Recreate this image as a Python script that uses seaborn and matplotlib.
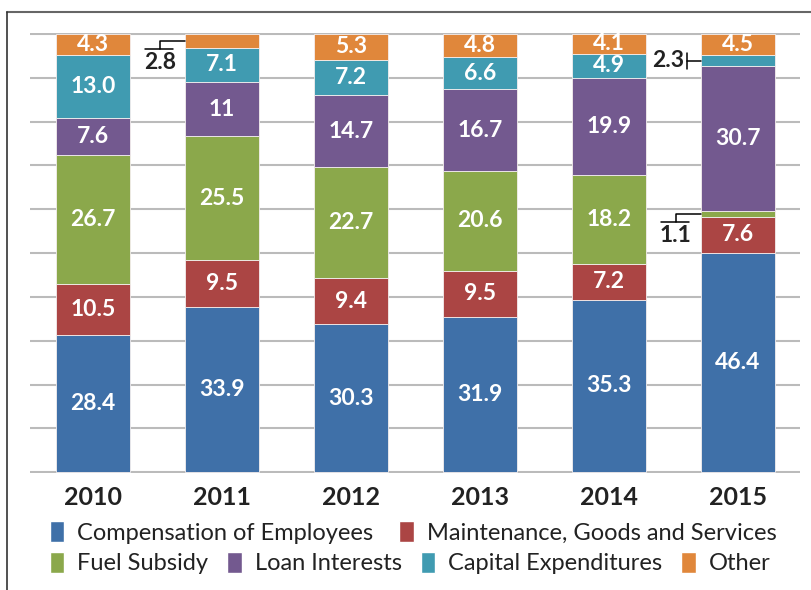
import pandas as pd
import matplotlib.pyplot as plt
import seaborn as sns
from matplotlib.lines import Line2D
from matplotlib.patches import Patch

# data (values as printed on the bars; bars are drawn as shares of each year's total)
years = ["2010", "2011", "2012", "2013", "2014", "2015"]
categories = ["Compensation of Employees", "Maintenance, Goods and Services",
              "Fuel Subsidy", "Loan Interests", "Capital Expenditures", "Other"]
compensation = [28.4, 33.9, 30.3, 31.9, 35.3, 46.4]
maintenance = [10.5, 9.5, 9.4, 9.5, 7.2, 7.6]
fuel_subsidy = [26.7, 25.5, 22.7, 20.6, 18.2, 1.1]
loan_interests = [7.6, 11, 14.7, 16.7, 19.9, 30.7]
capital_exp = [13.0, 7.1, 7.2, 6.6, 4.9, 2.3]
other = [4.3, 2.8, 5.3, 4.8, 4.1, 4.5]

colors = ["#3F70A8", "#AB4544", "#8BA84B", "#73598F", "#409BB1", "#E0873B"]

# small segments labelled outside the bar
callouts = {("2011", "Other"): "elbow",
            ("2015", "Capital Expenditures"): "side",
            ("2015", "Fuel Subsidy"): "elbow"}

series = [compensation, maintenance, fuel_subsidy, loan_interests, capital_exp, other]
rows = []
for cat, vals in zip(categories, series):
    for yr, v in zip(years, vals):
        rows.append({"year": yr, "category": cat, "value": v,
                     "label": str(v) if isinstance(v, int) else f"{v:.1f}"})
df = pd.DataFrame(rows)
df["share"] = df["value"] / df.groupby("year")["value"].transform("sum") * 100
df["bottom"] = df.groupby("year")["share"].cumsum() - df["share"]

sns.set_style("white")
plt.rcParams["font.family"] = ["Lato", "DejaVu Sans"]

fig = plt.figure(figsize=(8.12, 5.9), dpi=100)
ax = fig.add_axes([0.037, 0.198, 0.948, 0.746])

bw = 0.57
for cat, col in zip(categories, colors):
    sub = df[df["category"] == cat]
    sns.barplot(data=sub, x="year", y="share", bottom=sub["bottom"].values,
                color=col, saturation=1, width=bw, errorbar=None,
                edgecolor="#f4eeee", linewidth=0.6, ax=ax, zorder=2)

# segment labels
lab_size = 16.5
for _, r in df.iterrows():
    i = years.index(r["year"])
    mid = r["bottom"] + r["share"] / 2
    kind = callouts.get((r["year"], r["category"]))
    bl = i - bw / 2
    if kind is None:
        ax.text(i, mid, r["label"], ha="center", va="center", color="white",
                fontsize=lab_size, fontweight="bold", zorder=3)
    elif kind == "elbow":
        ax.plot([bl, bl - 0.196, bl - 0.196], [mid, mid, mid - 1.8],
                color="black", lw=1.1, zorder=3, clip_on=False)
        ax.plot([bl - 0.312, bl - 0.095], [mid - 1.8, mid - 1.8],
                color="black", lw=1.1, zorder=3, clip_on=False)
        ax.text(bl - 0.2, mid - 5.0, r["label"], ha="center", va="center",
                color="#222222", fontsize=lab_size, fontweight="bold")
    else:
        ax.plot([bl, bl - 0.11], [mid, mid], color="black", lw=1.1, zorder=3)
        ax.plot([bl - 0.11, bl - 0.11], [mid - 1.8, mid + 1.8], color="black",
                lw=1.1, zorder=3)
        ax.text(bl - 0.135, mid, r["label"], ha="right", va="center",
                color="#222222", fontsize=lab_size, fontweight="bold")

ax.set_xlim(-0.49, 5.48)
ax.set_ylim(-0.2, 100.2)
ax.set_yticks(range(0, 101, 10))
ax.yaxis.grid(True, color="#BBBBBB", lw=1.5)
ax.set_axisbelow(True)
ax.set_yticklabels([])
ax.set_xlabel("")
ax.set_ylabel("")
ax.tick_params(axis="both", length=0)
ax.tick_params(axis="x", pad=9)
for t in ax.get_xticklabels():
    t.set_fontsize(18)
    t.set_fontweight("bold")
    t.set_color("#222222")
sns.despine(ax=ax, left=True, bottom=True)

# legend in two rows
handles = [Patch(facecolor=c) for c in colors]
leg_kw = dict(loc="center left", frameon=False, fontsize=17, handlelength=0.62,
              handleheight=1.0, handletextpad=0.55,
              borderaxespad=0, borderpad=0, labelcolor="#222222")
fig.legend(handles[:2], categories[:2], ncol=2, bbox_to_anchor=(0.061, 0.098),
           columnspacing=1.1, **leg_kw)
fig.legend(handles[2:], categories[2:], ncol=4, bbox_to_anchor=(0.061, 0.046),
           columnspacing=0.8, **leg_kw)

# frame around the chart (cropped on the right and bottom)
fig.add_artist(Line2D([0.0086, 1.0], [0.980, 0.980], transform=fig.transFigure,
                      color="#666666", lw=1.5))
fig.add_artist(Line2D([0.0086, 0.0086], [0.0, 0.980], transform=fig.transFigure,
                      color="#333333", lw=1.2))

fig.savefig("out.png", dpi=100)
